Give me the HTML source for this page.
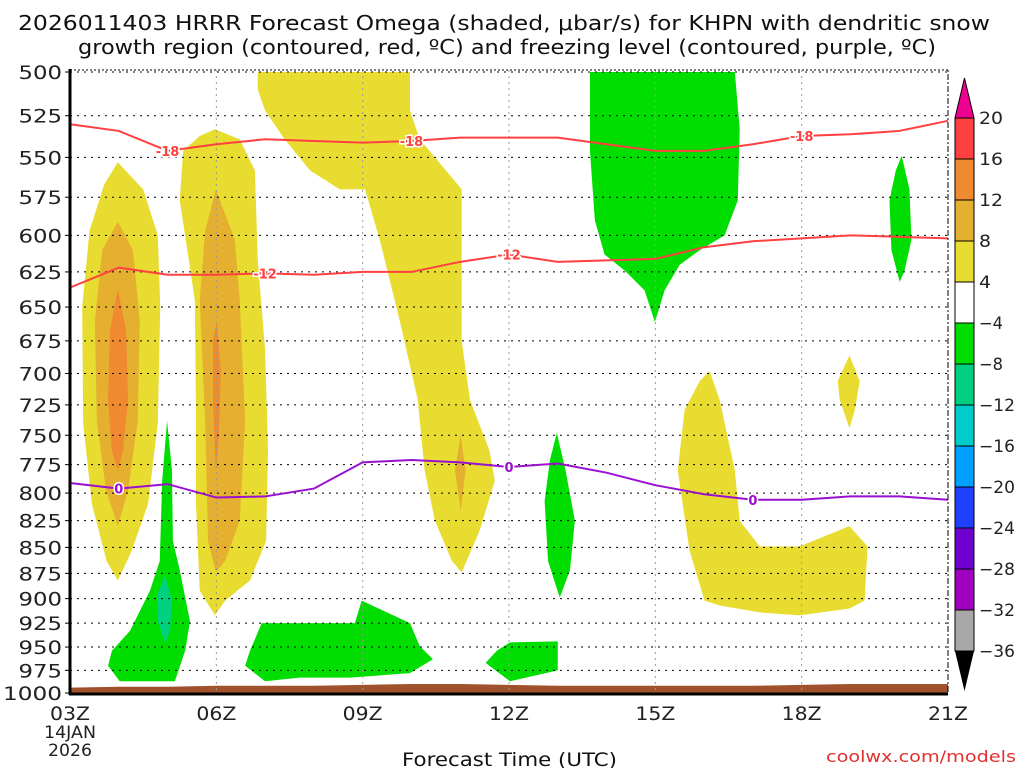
<!DOCTYPE html>
<html><head><meta charset="utf-8"><style>
body{margin:0;background:#fff;width:1024px;height:768px;overflow:hidden}
svg text{font-family:"DejaVu Sans","Liberation Sans",sans-serif}
</style></head><body>
<svg id="chart" width="1024" height="768" xmlns="http://www.w3.org/2000/svg">
<text x="18" y="30" font-size="20" textLength="972" lengthAdjust="spacingAndGlyphs" fill="#111">2026011403 HRRR Forecast Omega (shaded, μbar/s) for KHPN with dendritic snow</text>
<text x="78" y="54" font-size="20" textLength="858" lengthAdjust="spacingAndGlyphs" fill="#111">growth region (contoured, red, ºC) and freezing level (contoured, purple, ºC)</text>
<g id="fills"></g><g id="grid"></g><g id="lines"></g><g id="axes"></g><g id="cbar"></g>
<text x="402" y="766" font-size="19" textLength="215" lengthAdjust="spacingAndGlyphs" fill="#111">Forecast Time (UTC)</text>
<text x="826" y="762" font-size="16" textLength="190" lengthAdjust="spacingAndGlyphs" fill="#e03030">coolwx.com/models</text>
</svg>
<script>
const pTicks=[500,525,550,575,600,625,650,675,700,725,750,775,800,825,850,875,900,925,950,975,1000];
const xTickHours=[0,3,6,9,12,15,18];
const xTickLabels=["03Z","06Z","09Z","12Z","15Z","18Z","21Z"];
const lineHours=[0,1,2,3,4,5,6,7,8,9,10,11,12,13,14,15,16,17,18];
const dgzWarm=[530,534,546,542,539,540,541,540,538,538,538,542,546,546,542,537,536,534,528];
const dgzCold=[636,622,627,627,626,627,625,625,618,613,618,617,616,608,604,602,600,601,602];
const freezing=[791,796,792,804,803,796,773,771,773,777,774,782,793,801,806,806,803,803,806];
const groundP=[994,993,993,992,992,992,991,990,990,991,992,992,992,992,992,991,990,990,990];
const cbLevels=["20","16","12","8","4","−4","−8","−12","−16","−20","−24","−28","−32","−36"];
const cbColors=["#ff4040","#f08a30","#e5b030","#e8dc30","#ffffff","#00dd00","#00d080","#00cccc","#00a0ff","#2040ff","#7000d0","#a000c0","#a8a8a8"];
const yellowA=[[0.98,553],[1.5,570],[1.8,600],[1.85,650],[1.8,740],[1.6,810],[1.25,855],[0.98,882],[0.75,863],[0.45,810],[0.27,740],[0.25,650],[0.4,597],[0.7,567]];
const orangeA=[[0.98,591],[1.29,610],[1.43,660],[1.39,738],[1.19,798],[0.98,830],[0.74,798],[0.55,738],[0.51,660],[0.66,610]];
const darkA=[[0.98,637],[1.15,667],[1.19,721],[1.09,763],[0.98,780],[0.86,763],[0.78,721],[0.82,667]];
const yellowB=[[2.97,533],[3.48,539],[3.79,558],[3.85,617],[4.0,682],[4.06,763],[4.02,844],[3.69,882],[3.18,902],[2.97,917],[2.66,892],[2.58,807],[2.58,721],[2.56,645],[2.25,577],[2.32,546],[2.66,537]];
const orangeB=[[2.99,570],[3.38,603],[3.48,645],[3.59,738],[3.48,825],[3.18,863],[2.99,874],[2.83,844],[2.77,738],[2.66,645],[2.77,597]];
const darkB=[[3.01,660],[3.09,698],[3.05,754],[2.99,780],[2.93,721],[2.93,675]];
const yellowC=[[3.85,500],[6.97,500],[6.97,522],[7.17,539],[8.03,570],[8.03,675],[8.2,721],[8.6,763],[8.71,789],[8.4,834],[8.03,874],[7.83,863],[7.48,825],[7.27,780],[7.13,721],[6.76,660],[6.35,603],[6.05,570],[5.53,570],[4.92,558],[4.4,539],[4.0,522],[3.85,510]];
const orangeC=[[8.01,750],[8.11,780],[8.01,816],[7.89,780]];
const yellowD=[[13.11,698],[13.32,721],[13.63,780],[13.73,825],[14.14,849],[14.96,849],[15.98,830],[16.35,849],[16.29,902],[15.98,910],[14.96,917],[14.14,914],[13.32,907],[13.01,902],[12.7,853],[12.46,780],[12.6,729],[12.91,706]];
const yellowE=[[15.98,686],[16.19,706],[16.09,729],[15.98,744],[15.78,721],[15.74,706]];
const greenTop=[[10.66,500],[13.63,500],[13.73,533],[13.69,577],[13.42,600],[12.91,610],[12.5,620],[12.19,638],[11.99,661],[11.78,638],[11.37,624],[10.96,613],[10.76,590],[10.66,546]];
const greenR=[[17.05,549],[17.21,570],[17.25,603],[17.11,624],[17.01,632],[16.84,610],[16.8,577],[16.93,558]];
const greenL=[[1.99,738],[2.09,780],[2.11,844],[2.25,872],[2.46,923],[2.36,954],[2.15,987],[1.02,987],[0.78,970],[0.86,954],[1.23,933],[1.64,892],[1.84,863],[1.89,789]];
const tealL=[[1.95,877],[2.09,902],[2.05,933],[1.95,946],[1.8,923],[1.78,897]];
const greenM=[[3.93,925],[5.84,925],[5.98,902],[6.97,925],[7.17,949],[7.44,963],[6.97,978],[5.74,983],[4.71,983],[4.0,987],[3.59,970],[3.69,954]];
const green12=[[9.02,945],[10.0,944],[10.0,975],[9.02,987],[8.52,967],[8.75,954]];
const green13=[[9.98,748],[10.16,780],[10.35,825],[10.25,872],[10.04,899],[9.8,863],[9.73,807],[9.84,771]];

const X0=70,X1=948,Y0=72,Y1=693;
const xs=h=>X0+h*(X1-X0)/18;
const ys=p=>Y0+(Y1-Y0)*Math.log(p/500)/Math.log(2);
const NS="http://www.w3.org/2000/svg";
function mk(tag,parent,attrs){const e=document.createElementNS(NS,tag);for(const k in attrs)e.setAttribute(k,attrs[k]);parent.appendChild(e);return e;}
const fills=document.getElementById('fills');
function poly(pts,color,name){const e=mk('polygon',fills,{points:pts.map(q=>xs(q[0])+','+ys(q[1])).join(' '),fill:color});

}
poly(yellowA,'#e8dc30','omega-4-8-a');poly(orangeA,'#e5b030','omega-8-12-a');poly(darkA,'#f08a30','omega-12-16-a');
poly(yellowB,'#e8dc30','omega-4-8-b');poly(orangeB,'#e5b030','omega-8-12-b');poly(darkB,'#f08a30','omega-12-16-b');
poly(yellowC,'#e8dc30','omega-4-8-c');poly(orangeC,'#e5b030','omega-8-12-c');
poly(yellowD,'#e8dc30','omega-4-8-d');poly(yellowE,'#e8dc30','omega-4-8-e');
poly(greenTop,'#00dd00','omega-neg-top');poly(greenR,'#00dd00','omega-neg-right');poly(greenL,'#00dd00','omega-neg-left');
poly(tealL,'#00d080','omega-neg-8-12');poly(greenM,'#00dd00','omega-neg-mid');poly(green12,'#00dd00','omega-neg-12z');poly(green13,'#00dd00','omega-neg-13z');
let gp='M'+xs(0)+','+Y1;lineHours.forEach((h,i)=>{gp+=' L'+xs(h)+','+ys(groundP[i]);});gp+=' L'+xs(18)+','+Y1+' Z';
const g=mk('path',fills,{d:gp,fill:'#a0522d'});


const grid=document.getElementById('grid');
pTicks.forEach(p=>{if(p===1000)return;const l=mk('line',grid,{x1:X0,x2:X1,y1:ys(p),y2:ys(p),stroke:'#000','stroke-width':1,'stroke-dasharray':'2,5'});

});
xTickHours.forEach(h=>{if(h===0)return;const l=mk('line',grid,{x1:xs(h),x2:xs(h),y1:Y0-2,y2:Y1,stroke:h===18?'#000':'#999','stroke-width':1,'stroke-dasharray':'2,4'});

});
const lines=document.getElementById('lines');
function ser(vals,color,name,labels,lab){const d=lineHours.map((h,i)=>(i?'L':'M')+xs(h)+','+ys(vals[i])).join(' ');
const e=mk('path',lines,{d:d,fill:'none',stroke:color,'stroke-width':2});


labels.forEach(h=>{const i=Math.round(h);const x=xs(h),y=ys(vals[i]);
const t=mk('text',lines,{x:x,y:y+5,'font-size':13,'font-weight':'bold','text-anchor':'middle',fill:color,stroke:'#fff','stroke-width':3,'paint-order':'stroke'});t.textContent=lab;

});}
ser(dgzWarm,'#ff4040','dgz-minus18-line',[2,7,15],'-18');
ser(dgzCold,'#ff4040','dgz-minus12-line',[4,9],'-12');
ser(freezing,'#9a10d0','freezing-level-line',[1,9,14],'0');
const ax=document.getElementById('axes');
mk('line',ax,{x1:X1,x2:X1,y1:Y0-2,y2:Y1,stroke:'#000','stroke-dasharray':'2,2'});
mk('line',ax,{x1:X0,x2:X1,y1:Y0-2,y2:Y0-2,stroke:'#000','stroke-dasharray':'2,2'});
mk('line',ax,{x1:X0,x2:X0,y1:Y0-3,y2:Y1+2,stroke:'#000','stroke-width':3});
mk('line',ax,{x1:X0-1,x2:X1,y1:Y1+1,y2:Y1+1,stroke:'#000','stroke-width':3});
pTicks.forEach(p=>{mk('line',ax,{x1:X0-5,x2:X0,y1:ys(p),y2:ys(p),stroke:'#000'});
const s=String(p);
const t=mk('text',ax,{x:X0-5-s.length*15.5,y:ys(p)+7,'font-size':19,textLength:s.length*15.5-3,lengthAdjust:'spacingAndGlyphs',fill:'#222'});t.textContent=s;

});
xTickHours.forEach((h,i)=>{const t=mk('text',ax,{x:xs(h)-20,y:Y1+27,'font-size':19,textLength:40,lengthAdjust:'spacingAndGlyphs',fill:'#222'});t.textContent=xTickLabels[i];

});
const d1=mk('text',ax,{x:xs(0)-26,y:Y1+45,'font-size':17,textLength:52,lengthAdjust:'spacingAndGlyphs',fill:'#222'});d1.textContent='14JAN';


const d2=mk('text',ax,{x:xs(0)-22,y:Y1+63,'font-size':17,textLength:44,lengthAdjust:'spacingAndGlyphs',fill:'#222'});d2.textContent='2026';


const cb=document.getElementById('cbar');
const CX=955,CW=19,CT=118,CH=41;
mk('polygon',cb,{points:`${CX},${CT} ${CX+CW},${CT} ${CX+CW/2},78`,fill:'#ee0090',stroke:'#000'});
cbColors.forEach((c,i)=>{const r=mk('rect',cb,{x:CX,y:CT+i*CH,width:CW,height:CH,fill:c,stroke:'#000','stroke-width':1});

});
const bot=CT+cbColors.length*CH;
mk('polygon',cb,{points:`${CX},${bot} ${CX+CW},${bot} ${CX+CW/2},${bot+40}`,fill:'#000'});
cbLevels.forEach((l,i)=>{const t=mk('text',cb,{x:979,y:CT+i*CH+6,'font-size':17,textLength:l.length*12,lengthAdjust:'spacingAndGlyphs',fill:'#222'});t.textContent=l;

});
</script>
</body></html>
